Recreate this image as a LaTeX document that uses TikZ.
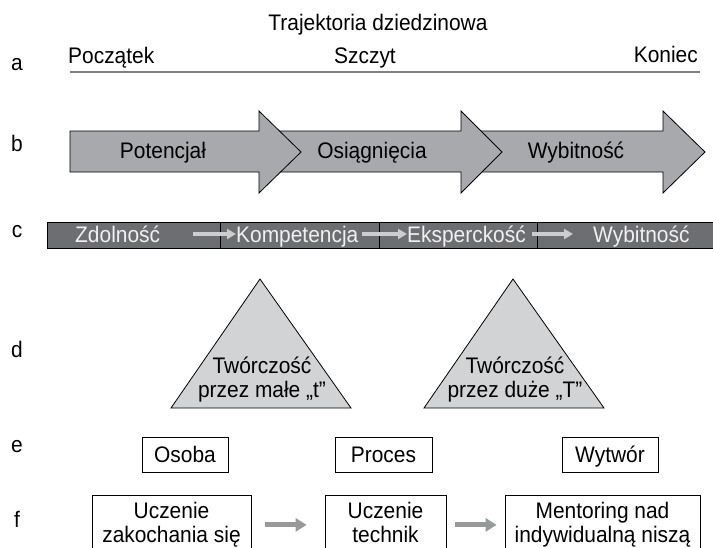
\documentclass[tikz,border=0pt]{standalone}
\usepackage{fontspec}
\setmainfont{Liberation Sans}[FakeStretch=0.93]
\usetikzlibrary{arrows.meta}
\definecolor{linegray}{RGB}{128,128,128}
\definecolor{arrowgray}{RGB}{167,169,172}
\definecolor{celldark}{RGB}{109,110,113}
\definecolor{celltext}{RGB}{240,240,240}
\definecolor{cellarrow}{RGB}{205,205,205}
\definecolor{trigray}{RGB}{209,211,212}
\definecolor{steparrow}{RGB}{152,153,155}
\begin{document}
\begin{tikzpicture}
	[	x=1pt,y=-1pt,
	txt/.style={inner sep=0pt,font=\fontsize{22.5}{24}\selectfont},
	lbl/.style={txt,anchor=base},
	bigarrow/.style={draw=black,fill=arrowgray,line width=.8pt},
	cell/.style={draw=black,fill=celldark,line width=.8pt,minimum height=26pt,anchor=north west,inner sep=0pt},
	celllbl/.style={txt,anchor=base west,text=celltext,text height=16pt,text depth=0pt},
	cellarr/.style={draw=cellarrow,line width=4pt,-{Triangle[length=9pt,width=10pt]}},
	tri/.style={draw=black,fill=trigray,line width=.8pt},
	box/.style={txt,draw=black,line width=.8pt,text height=16pt,text depth=0pt,minimum height=35pt},
	stepbox/.style={txt,draw=black,line width=.8pt,anchor=north,align=center,inner xsep=0pt,inner ysep=7pt},
	steparr/.style={draw=steparrow,line width=5pt,-{Triangle[length=11pt,width=13pt]}}
	]
	\useasboundingbox (0,0) rectangle (713,547);
	\clip (0,0) rectangle (713,547);

	\node[lbl] (title) at (378,30) {Trajektoria dziedzinowa};

	\node[lbl] (la) at (17,70) {a};
	\node[lbl] (lb) at (17,151) {b};
	\node[lbl] (lc) at (17,237) {c};
	\node[lbl] (ld) at (17,357) {d};
	\node[lbl] (le) at (17,452) {e};
	\node[lbl] (lf) at (17,527) {f};

	\node[lbl,anchor=base west] (poczatek) at (68,63) {Początek};
	\node[lbl] (szczyt) at (365,63) {Szczyt};
	\node[lbl,anchor=base east] (koniec) at (698,62) {Koniec};
	\coordinate (a0) at (70,72);
	\coordinate (a1) at (700,72);
	\draw[linegray,line width=2pt] (a0) -- (a1);

	\draw[bigarrow] (471,131) -- (663,131) -- (663,111) -- (705,152) -- (663,193) -- (663,172) -- (471,172) -- cycle;
	\draw[bigarrow] (270,131) -- (461,131) -- (461,111) -- (502,152) -- (461,193) -- (461,172) -- (270,172) -- cycle;
	\draw[bigarrow] (70,131) -- (259,131) -- (259,111) -- (301,152) -- (259,193) -- (259,172) -- (70,172) -- cycle;
	\node[lbl] (potencjal) at (163,158) {Potencjał};
	\node[lbl] (osiagniecia) at (372,158) {Osiągnięcia};
	\node[lbl] (wybitnosc) at (576,158) {Wybitność};

	\node[cell,minimum width=173pt] (c1) at (47,222) {};
	\node[cell,minimum width=159pt] (c2) at (220,222) {};
	\node[cell,minimum width=158pt] (c3) at (379,222) {};
	\node[cell,minimum width=180pt] (c4) at (537,222) {};
	\node[celllbl] (zdolnosc) at (75,242) {Zdolność};
	\node[celllbl] (kompetencja) at (236,242) {Kompetencja};
	\node[celllbl] (eksperckosc) at (407,242) {Eksperckość};
	\node[celllbl] (wybitnoscc) at (593,242) {Wybitność};
	\draw[cellarr,shorten <=33pt] (zdolnosc.east) -- (kompetencja.west);
	\draw[cellarr,shorten <=3pt] (kompetencja.east) -- (eksperckosc.west);
	\draw[cellarr,shorten <=6pt,shorten >=20pt] (eksperckosc.east) -- (wybitnoscc.west);

	\draw[tri] (171,408) -- (260,279) -- (351,408) -- cycle;
	\draw[tri] (424,408) -- (513,279) -- (604,408) -- cycle;
	\node[txt,anchor=north,align=center] (malet) at (262,357) {Twórczość\\przez małe „t”};
	\node[txt,anchor=north,align=center] (duzet) at (515,357) {Twórczość\\przez duże „T”};

	\node[box,minimum width=86pt] (osoba) at (185,454.5) {Osoba};
	\node[box,minimum width=97pt] (proces) at (383.5,454.5) {Proces};
	\node[box,minimum width=96pt] (wytwor) at (610,454.5) {Wytwór};

	\node[stepbox,minimum width=159pt] (zakochanie) at (171.5,495) {Uczenie\\zakochania się};
	\node[stepbox,minimum width=121pt] (techniki) at (385.5,495) {Uczenie\\technik};
	\node[stepbox,minimum width=195pt] (mentoring) at (602.5,495) {Mentoring nad\\indywidualną niszą};
	\draw[steparr,shorten <=14pt,shorten >=18pt] (zakochanie.east) -- (zakochanie.east -| techniki.west);
	\draw[steparr,shorten <=9pt,shorten >=8pt] (techniki.east |- mentoring.west) -- (mentoring.west);
\end{tikzpicture}
\end{document}
